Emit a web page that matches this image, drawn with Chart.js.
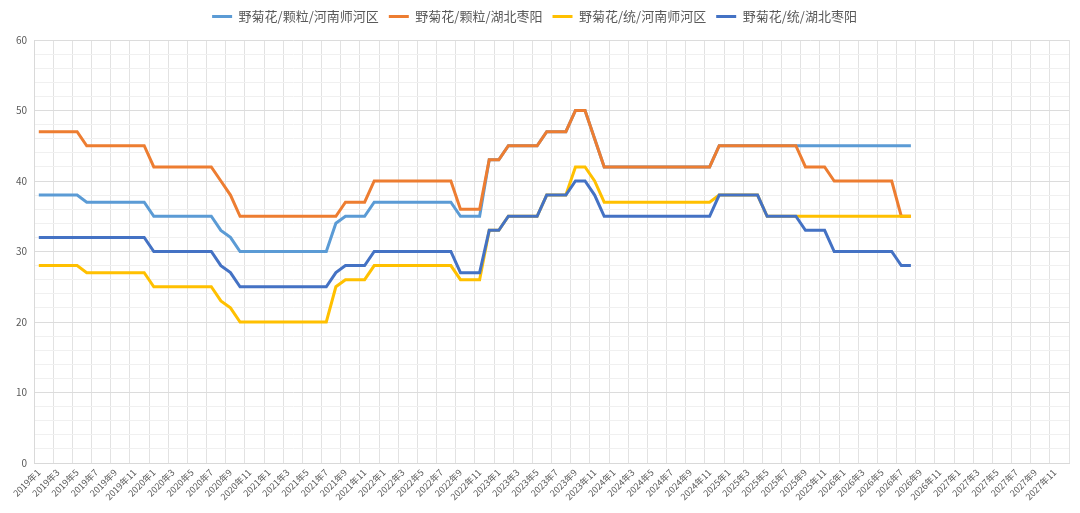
<!DOCTYPE html>
<html lang="zh-CN">
<head>
<meta charset="utf-8">
<title>野菊花价格走势</title>
<script src="https://cdn.jsdelivr.net/npm/chart.js@4.4.1/dist/chart.umd.min.js"></script>
<style>
    html, body { margin: 0; padding: 0; background: #ffffff; }
    .chart-box { position: relative; width: 1080px; height: 513px; }
</style>
</head>
<body>
<div class="chart-box">
    <canvas id="priceChart"></canvas>
</div>
<script>
    'use strict';

    // 横轴：2019年1 ~ 2027年12，按月
    const years = [2019, 2020, 2021, 2022, 2023, 2024, 2025, 2026, 2027];
    const months = [1, 2, 3, 4, 5, 6, 7, 8, 9, 10, 11, 12];

    const seriesNames = [
        '野菊花/颗粒/河南师河区',
        '野菊花/颗粒/湖北枣阳',
        '野菊花/统/河南师河区',
        '野菊花/统/湖北枣阳'
    ];

    // 2019年1 起逐月数据（至 2026年8）
    const granuleHenan = [
        38, 38, 38, 38, 38, 37, 37, 37, 37, 37, 37, 37,
        35, 35, 35, 35, 35, 35, 35, 33, 32, 30, 30, 30,
        30, 30, 30, 30, 30, 30, 30, 34, 35, 35, 35, 37,
        37, 37, 37, 37, 37, 37, 37, 37, 35, 35, 35, 43,
        43, 45, 45, 45, 45, 47, 47, 47, 50, 50, 46, 42,
        42, 42, 42, 42, 42, 42, 42, 42, 42, 42, 42, 45,
        45, 45, 45, 45, 45, 45, 45, 45, 45, 45, 45, 45,
        45, 45, 45, 45, 45, 45, 45, 45
    ];
    const granuleHubei = [
        47, 47, 47, 47, 47, 45, 45, 45, 45, 45, 45, 45,
        42, 42, 42, 42, 42, 42, 42, 40, 38, 35, 35, 35,
        35, 35, 35, 35, 35, 35, 35, 35, 37, 37, 37, 40,
        40, 40, 40, 40, 40, 40, 40, 40, 36, 36, 36, 43,
        43, 45, 45, 45, 45, 47, 47, 47, 50, 50, 46, 42,
        42, 42, 42, 42, 42, 42, 42, 42, 42, 42, 42, 45,
        45, 45, 45, 45, 45, 45, 45, 45, 42, 42, 42, 40,
        40, 40, 40, 40, 40, 40, 35, 35
    ];
    const tongHenan = [
        28, 28, 28, 28, 28, 27, 27, 27, 27, 27, 27, 27,
        25, 25, 25, 25, 25, 25, 25, 23, 22, 20, 20, 20,
        20, 20, 20, 20, 20, 20, 20, 25, 26, 26, 26, 28,
        28, 28, 28, 28, 28, 28, 28, 28, 26, 26, 26, 33,
        33, 35, 35, 35, 35, 38, 38, 38, 42, 42, 40, 37,
        37, 37, 37, 37, 37, 37, 37, 37, 37, 37, 37, 38,
        38, 38, 38, 38, 35, 35, 35, 35, 35, 35, 35, 35,
        35, 35, 35, 35, 35, 35, 35, 35
    ];
    const tongHubei = [
        32, 32, 32, 32, 32, 32, 32, 32, 32, 32, 32, 32,
        30, 30, 30, 30, 30, 30, 30, 28, 27, 25, 25, 25,
        25, 25, 25, 25, 25, 25, 25, 27, 28, 28, 28, 30,
        30, 30, 30, 30, 30, 30, 30, 30, 27, 27, 27, 33,
        33, 35, 35, 35, 35, 38, 38, 38, 40, 40, 38, 35,
        35, 35, 35, 35, 35, 35, 35, 35, 35, 35, 35, 38,
        38, 38, 38, 38, 35, 35, 35, 35, 33, 33, 33, 30,
        30, 30, 30, 30, 30, 30, 28, 28
    ];

    const seriesColors = ['#5B9BD5', '#ED7D31', '#FFC000', '#4472C4'];

    function buildLabels() {
        const labels = [];
        years.forEach(function(y) {
            months.forEach(function(m) {
                labels.push(y + '年' + m);
            });
        });
        return labels;
    }

    function makeDataset(i, values) {
        return {
            label: seriesNames[i],
            data: values,
            borderColor: seriesColors[i],
            backgroundColor: seriesColors[i],
            borderWidth: 3,
            pointRadius: 0,
            pointHoverRadius: 0,
            tension: 0,
            fill: false,
            order: seriesNames.length - i   // later series drawn on top, like the original
        };
    }

    // extra room under the legend
    const legendGap = {
        id: 'legendGap',
        beforeInit: function(chart) {
            const fit = chart.legend.fit;
            chart.legend.fit = function() {
                fit.bind(chart.legend)();
                this.height += 7;
            };
        }
    };

    function initChart() {
        const canvas = document.getElementById('priceChart');
        const labels = buildLabels();
        const font = "'Noto Sans CJK SC', 'Noto Sans', sans-serif";

        new Chart(canvas.getContext('2d'), {
            type: 'line',
            data: {
                labels: labels,
                datasets: [
                    makeDataset(0, granuleHenan),
                    makeDataset(1, granuleHubei),
                    makeDataset(2, tongHenan),
                    makeDataset(3, tongHubei)
                ]
            },
            plugins: [legendGap],
            options: {
                responsive: true,
                maintainAspectRatio: false,
                animation: false,
                layout: { padding: { left: 0, right: 11, top: 0, bottom: 0 } },
                plugins: {
                    legend: {
                        display: true,
                        position: 'top',
                        labels: {
                            usePointStyle: true,
                            pointStyle: 'line',
                            pointStyleWidth: 20,
                            color: '#595959',
                            padding: 10,
                            font: { family: font, size: 13 },
                            sort: function(a, b) { return a.datasetIndex - b.datasetIndex; }
                        }
                    },
                    tooltip: { enabled: false }
                },
                scales: {
                    x: {
                        offset: true,
                        afterFit: function(scale) { scale.height = 50; },
                        grid: {
                            offset: true,
                            drawTicks: false,
                            color: function(ctx) {
                                if (ctx.index === undefined || ctx.index % 2 === 0) return '#e2e2e2';
                                return 'rgba(0,0,0,0)';
                            }
                        },
                        border: { color: '#d9d9d9' },
                        ticks: {
                            autoSkip: false,
                            minRotation: 45,
                            maxRotation: 45,
                            padding: 4,
                            color: '#595959',
                            font: { family: font, size: 9 },
                            callback: function(value, index) {
                                return index % 2 === 0 ? labels[index] : '';
                            }
                        }
                    },
                    y: {
                        min: 0,
                        max: 60,
                        afterFit: function(scale) { scale.width = 34; },
                        grid: {
                            drawTicks: false,
                            color: function(ctx) {
                                return ctx.tick && ctx.tick.value % 10 === 0 ? '#dcdcdc' : '#f0f0f0';
                            }
                        },
                        border: { color: '#d9d9d9' },
                        ticks: {
                            autoSkip: false,
                            stepSize: 2,
                            padding: 7,
                            color: '#595959',
                            font: { family: font, size: 10 },
                            callback: function(value) {
                                return value % 10 === 0 ? value : '';
                            }
                        }
                    }
                }
            }
        });
    }

    document.addEventListener('DOMContentLoaded', initChart);
</script>
</body>
</html>
